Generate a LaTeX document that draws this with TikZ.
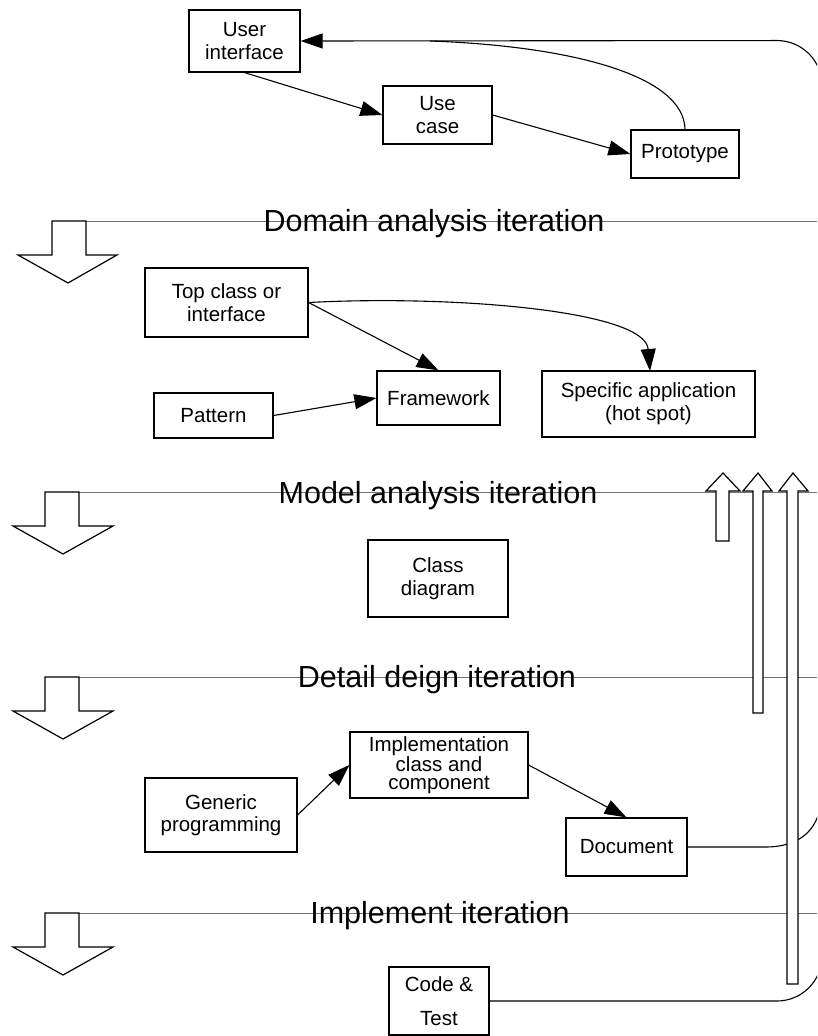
\documentclass[tikz,border=0pt]{standalone}
\usepackage{fontspec}
\setmainfont{Liberation Sans}
\usetikzlibrary{arrows.meta}
\begin{document}
\begin{tikzpicture}[x=1pt,y=-1pt,
  box/.style={draw=black,line width=1.2pt,fill=white,align=center,inner sep=0pt,
    font=\fontsize{20.5}{23}\selectfont},
  link/.style={line width=1.1pt,-{Triangle[length=22pt,width=15pt]}},
  plain/.style={line width=1.1pt},
  iterline/.style={draw=black!55,line width=0.8pt},
  iterlabel/.style={anchor=base,font=\fontsize{30.5}{36}\selectfont,inner sep=0pt},
  stagearrow/.style={draw=black,line width=1.2pt,fill=white,line join=miter},
]
\clip (0,0) rectangle (817,1036);

% iteration separators with the downward stage arrows
\foreach \y/\sl/\sr/\hl/\hr/\tx in {221/52/86/18/117/68, 492/45/79/13/113/63,
                                     677/45/79/13/113/63, 913/45/79/13/113/63}{
  \draw[iterline] (\sr,\y) -- (817,\y);
  \draw[stagearrow] (\sl,\y) -- (\sr,\y) -- (\sr,{\y+34}) -- (\hr,{\y+34})
     -- (\tx,{\y+62}) -- (\hl,{\y+34}) -- (\sl,{\y+34}) -- cycle;
}
\node[iterlabel] (lbldomain) at (434,231) {Domain analysis iteration};
\node[iterlabel] (lblmodel) at (438,503) {Model analysis iteration};
\node[iterlabel] (lbldetail) at (437,687) {Detail deign iteration};
\node[iterlabel] (lblimpl) at (440,923) {Implement iteration};

% requirement stage
\node[box,minimum width=111pt,minimum height=62pt] (ui) at (244.5,41) {User\\interface};
\node[box,minimum width=109pt,minimum height=58pt] (uc) at (437.5,115) {Use\\case};
\node[box,minimum width=108pt,minimum height=48pt] (proto) at (685,154) {Prototype};

% domain analysis stage
\node[box,minimum width=163pt,minimum height=69pt] (top) at (226.5,302.5) {Top class or\\interface};
\node[box,minimum width=119pt,minimum height=45pt] (pattern) at (213.5,415.5) {Pattern};
\node[box,minimum width=123pt,minimum height=54pt] (frame) at (438.5,398) {Framework};
\node[box,minimum width=213pt,minimum height=66pt] (spec) at (648.5,404) {Specific application\\(hot spot)};

% model analysis stage
\node[box,minimum width=140pt,minimum height=77pt] (cls) at (438,578.5) {Class\\diagram};

% detail design stage
\node[box,minimum width=178pt,minimum height=66pt,
      font=\fontsize{20.5}{18.5}\selectfont] (impl) at (439,765) {Implementation\\class and\\component};
\node[box,minimum width=152pt,minimum height=74pt,
      font=\fontsize{20.5}{21.5}\selectfont] (gen) at (221,815) {Generic\\programming};
\node[box,minimum width=121pt,minimum height=58pt] (doc) at (626.5,847) {Document};

% implementation stage
\node[box,minimum width=100pt,minimum height=68pt,
      font=\fontsize{20.5}{34}\selectfont] (code) at (439,1001) {Code \&\\Test};

% connectors
\draw[link] (ui.south) -- (uc.west);
\draw[link] (uc.east) -- (proto.west);
\draw[plain] (proto.north) .. controls (684,75) and (570,46) .. (430,41);
\draw[link, rounded corners=45pt] (code.east) -- (822,1001) -- (822,40.5) -- (ui.east);
\draw[plain] (doc.east) -- (765,847) .. controls (800,847) and (822,830) .. (822,790);

\draw[link] (top.east) -- (frame.north);
\draw[link] (pattern.east) -- (frame.west);
\draw[link] (top.east) .. controls (450,295) and (645,310) .. (650,371);

\draw[link] (gen.east) -- (impl.west);
\draw[link] (impl.east) -- (doc.north);

% feedback arrows pointing back up
\draw[stagearrow] (716,541) -- (716,491) -- (706,491) -- (723,473) -- (740,491) -- (729,491) -- (729,541) -- cycle;
\draw[stagearrow] (753,713) -- (753,491) -- (743,491) -- (758,473) -- (772,491) -- (763,491) -- (763,713) -- cycle;
\draw[stagearrow] (787,984) -- (787,491) -- (779,491) -- (793,473) -- (808,491) -- (798,491) -- (798,984) -- cycle;
\end{tikzpicture}
\end{document}
